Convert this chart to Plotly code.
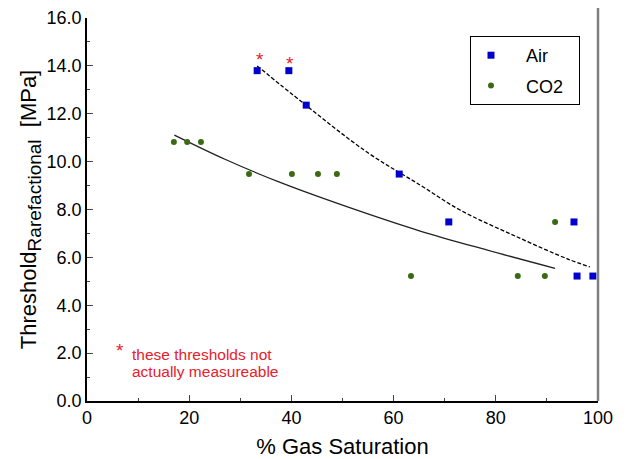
import plotly.graph_objects as go

# Data
air_x = [33.3, 39.5, 42.9, 61.1, 70.8, 95.3, 95.9, 99.0]
air_y = [13.8, 13.8, 12.36, 9.48, 7.48, 7.48, 5.22, 5.22]

co2_x = [17.0, 19.6, 22.3, 31.7, 40.1, 45.2, 48.9, 63.4, 84.3, 89.6, 91.6]
co2_y = [10.82, 10.82, 10.82, 9.48, 9.48, 9.48, 9.48, 5.22, 5.22, 5.22, 7.48]

air_fit_x = [33.3, 42.3, 54.7, 65.2, 73.0, 84.0, 94.1, 98.4]
air_fit_y = [14.0, 12.45, 10.41, 9.02, 7.98, 6.87, 5.93, 5.6]

co2_fit_x = [17.1, 27.0, 37.8, 50.0, 65.2, 78.2, 91.6]
co2_fit_y = [11.11, 10.1, 9.13, 8.18, 7.10, 6.31, 5.54]

star_x = [33.9, 39.8]
star_y = [14.26, 14.12]

x_ticks = [0, 20, 40, 60, 80, 100]
y_ticks = [0, 2, 4, 6, 8, 10, 12, 14, 16]

FONT = "Liberation Sans, Arial, sans-serif"
RED = "#e8202a"

fig = go.Figure()

fig.add_trace(go.Scatter(x=air_fit_x, y=air_fit_y, mode="lines",
                         line=dict(color="black", width=1.3, dash="4px,2px", shape="spline"),
                         showlegend=False, hoverinfo="skip"))
fig.add_trace(go.Scatter(x=co2_fit_x, y=co2_fit_y, mode="lines",
                         line=dict(color="#222222", width=1.3, shape="spline"),
                         showlegend=False, hoverinfo="skip"))

fig.add_trace(go.Scatter(x=air_x, y=air_y, mode="markers", name="&nbsp;&nbsp;&nbsp;Air",
                         legendgroup="a",
                         marker=dict(symbol="square", size=7, color="#0000cc")))
fig.add_trace(go.Scatter(x=co2_x, y=co2_y, mode="markers",
                         name="&nbsp;&nbsp;&nbsp;CO2&nbsp;&nbsp;",
                         legendgroup="b",
                         marker=dict(symbol="circle", size=6, color="#3a6b12")))

for sx, sy in zip(star_x, star_y):
    fig.add_annotation(x=sx, y=sy, text="*", showarrow=False, yanchor="middle",
                       font=dict(family=FONT, size=19, color=RED))

# positions relative to the plot area (screen px of the reference)
def px2paper(px, py):
    return (px - 87) / 511.0, (401 - py) / 383.0

sx, sy = px2paper(114, 350)
fig.add_annotation(xref="paper", yref="paper", x=sx, y=sy, text="*",
                   showarrow=False, yanchor="middle",
                   font=dict(family=FONT, size=19, color=RED))
lx, ly1 = px2paper(130, 354)
_, ly2 = px2paper(130, 371)
fig.add_annotation(xref="paper", yref="paper", x=lx, y=ly1,
                   text="these thresholds not",
                   showarrow=False, xanchor="left", yanchor="middle",
                   font=dict(family=FONT, size=15.5, color=RED))
fig.add_annotation(xref="paper", yref="paper", x=lx, y=ly2,
                   text="actually measureable",
                   showarrow=False, xanchor="left", yanchor="middle",
                   font=dict(family=FONT, size=15.5, color=RED))

# gray right border
fig.add_shape(type="line", xref="paper", yref="paper", x0=1, x1=1, y0=0, y1=1.03,
              line=dict(color="#808080", width=2.5))

fig.update_layout(
    width=621, height=451,
    margin=dict(l=79, r=31, t=10, b=58, autoexpand=False),
    paper_bgcolor="white", plot_bgcolor="white",
    font=dict(family=FONT, size=18, color="black"),
    legend=dict(x=(470 - 87) / 511.0, y=(401 - 36) / 383.0, xanchor="left", yanchor="top",
                bordercolor="black", borderwidth=1, bgcolor="white",
                font=dict(family=FONT, size=18), itemwidth=30,
                tracegroupgap=4),
    xaxis=dict(range=[0, 100], tickvals=x_ticks, ticks="inside", ticklen=6,
               showline=True, linecolor="black", linewidth=1.5, showgrid=False,
               zeroline=False, mirror=False, automargin=False,
               minor=dict(ticks="inside", ticklen=3, dtick=10, showgrid=False),
               title=dict(text="% Gas Saturation", font=dict(family=FONT, size=22), standoff=15),
               tickfont=dict(family=FONT, size=18)),
    yaxis=dict(range=[0, 16], tickvals=y_ticks, tickformat=".1f", ticks="inside", ticklen=6,
               showline=True, linecolor="black", linewidth=1.5, showgrid=False,
               zeroline=False, automargin=False,
               minor=dict(ticks="inside", ticklen=3, dtick=1, showgrid=False),
               title=dict(text="Threshold<sub><span style='font-size:19px'>Rarefactional</span></sub>  [MPa]",
                          font=dict(family=FONT, size=22), standoff=4),
               tickfont=dict(family=FONT, size=18)),
)

fig.write_html("out.html")
